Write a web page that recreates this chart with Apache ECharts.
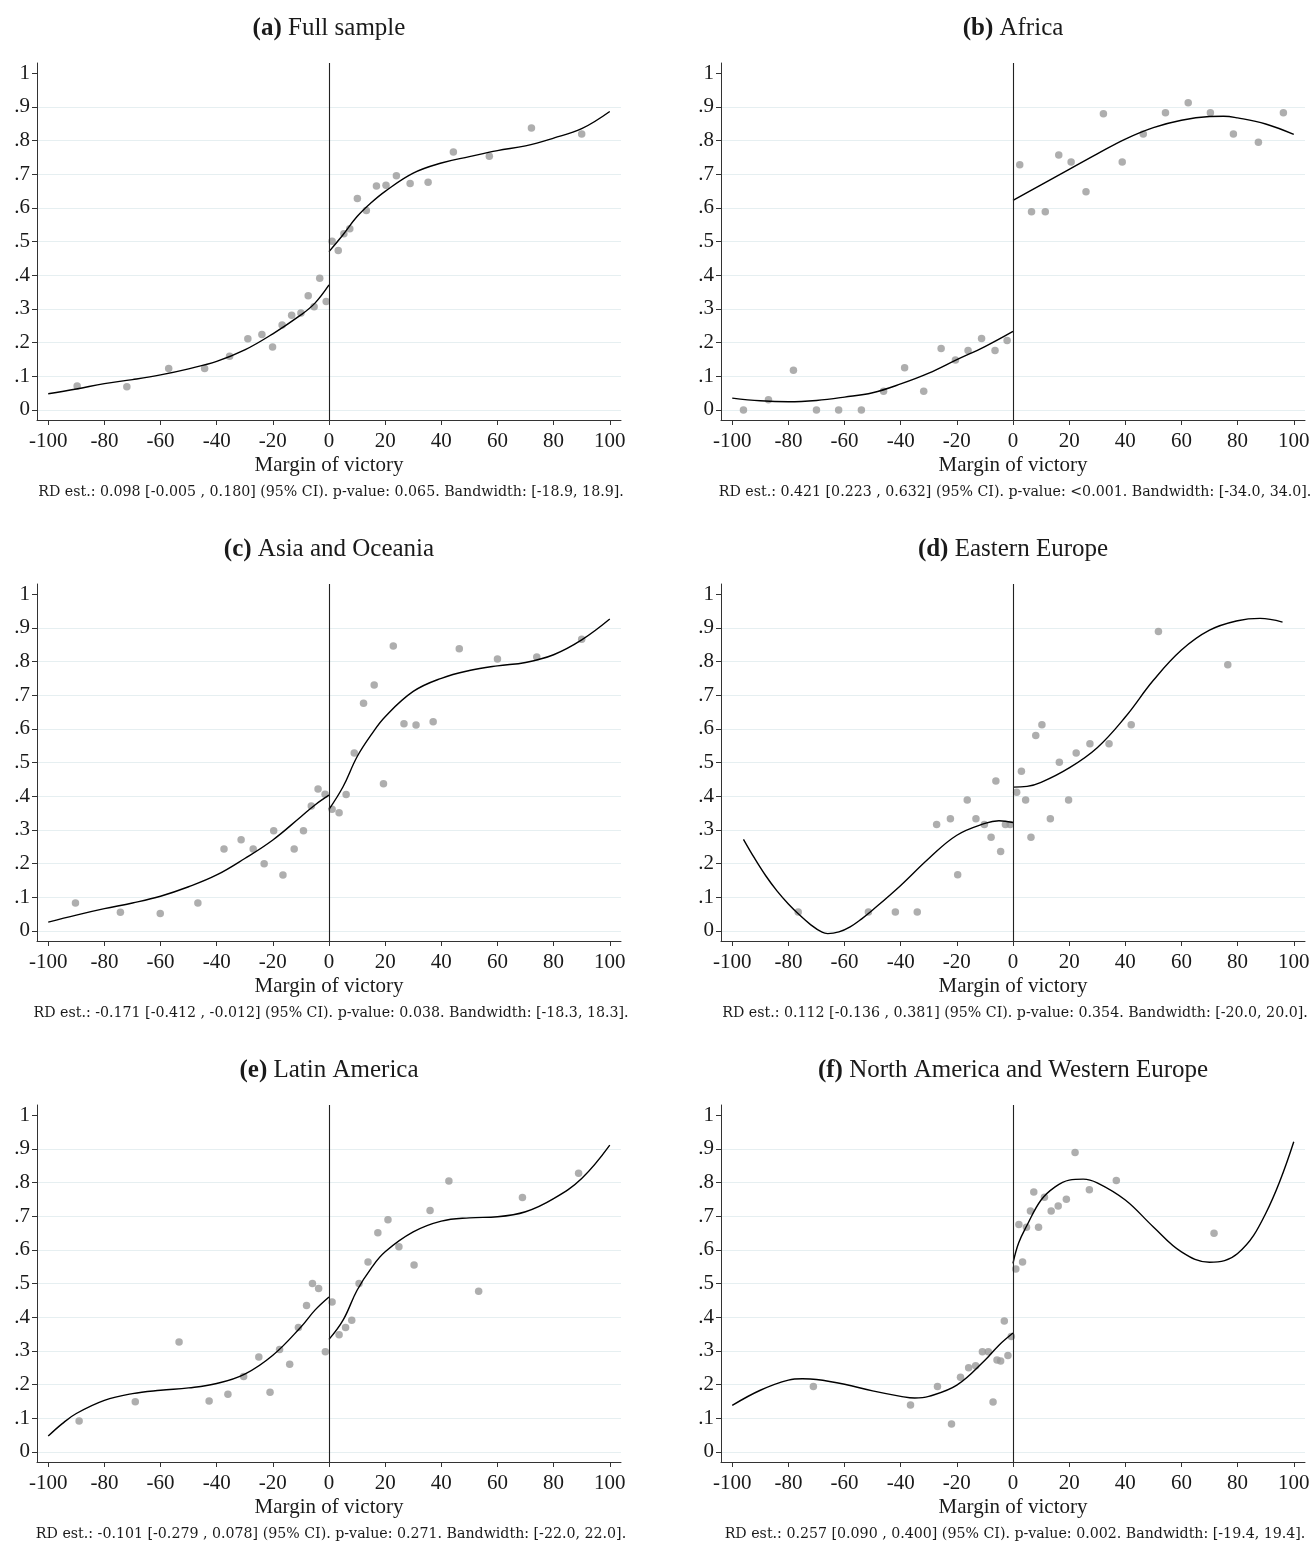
<!DOCTYPE html>
<html>
<head>
<meta charset="utf-8">
<script src="https://cdn.jsdelivr.net/npm/echarts@6/dist/echarts.min.js"></script>
<style>
  html, body { margin: 0; padding: 0; background: #ffffff; }
  #chart { width: 1314px; height: 1542px; }
</style>
</head>
<body>
<div id="chart"></div>
<script>
// Axis ticks shared by all panels
const xTicks = [-100, -80, -60, -40, -20, 0, 20, 40, 60, 80, 100];
const yTicks = [0, 0.1, 0.2, 0.3, 0.4, 0.5, 0.6, 0.7, 0.8, 0.9, 1];
const yTickLabels = ['0', '.1', '.2', '.3', '.4', '.5', '.6', '.7', '.8', '.9', '1'];
const yGridValues = [0, 0.1, 0.2, 0.3, 0.4, 0.5, 0.6, 0.7, 0.8, 0.9];

// (a) Full sample
const aBinX = [-89.7, -72, -57.1, -44.3, -35.4, -28.9, -23.9, -20.1, -16.7, -13.3, -10, -7.4, -5.3, -3.3, -1, 1.1, 3.3, 5.3, 7.4, 10.1, 13.3, 16.9, 20.3, 24, 28.9, 35.3, 44.3, 57.1, 72.1, 90];
const aBinY = [0.071, 0.069, 0.123, 0.123, 0.159, 0.211, 0.224, 0.187, 0.252, 0.281, 0.288, 0.339, 0.306, 0.391, 0.322, 0.501, 0.473, 0.523, 0.538, 0.628, 0.592, 0.665, 0.667, 0.695, 0.672, 0.676, 0.766, 0.753, 0.837, 0.819];
const aFitLX = [-100, -90, -80, -70, -60, -50, -40, -30, -20, -10, -5, 0];
const aFitLY = [0.048, 0.062, 0.078, 0.090, 0.104, 0.122, 0.144, 0.178, 0.226, 0.282, 0.317, 0.371];
const aFitRX = [0, 5, 10, 15, 20, 30, 40, 50, 60, 70, 80, 90, 100];
const aFitRY = [0.470, 0.520, 0.574, 0.615, 0.649, 0.703, 0.733, 0.752, 0.770, 0.784, 0.807, 0.835, 0.886];

// (b) Africa
const bBinX = [-96, -87.1, -78.2, -70, -62.1, -54, -46.1, -38.6, -31.8, -25.6, -20.5, -16, -11.2, -6.4, -2.1, 2.4, 6.6, 11.5, 16.3, 20.7, 26, 32.2, 38.9, 46.4, 54.3, 62.4, 70.3, 78.5, 87.4, 96.3];
const bBinY = [0, 0.030, 0.118, 0, 0, 0, 0.055, 0.125, 0.055, 0.182, 0.148, 0.176, 0.212, 0.176, 0.206, 0.728, 0.588, 0.588, 0.757, 0.736, 0.648, 0.879, 0.736, 0.819, 0.882, 0.912, 0.882, 0.819, 0.795, 0.882];
const bFitLX = [-100, -90, -80, -70, -60, -50, -40, -30, -20, -10, 0];
const bFitLY = [0.035, 0.027, 0.024, 0.028, 0.038, 0.051, 0.077, 0.109, 0.149, 0.188, 0.233];
const bFitRX = [0, 10, 20, 30, 40, 50, 60, 70, 75, 80, 90, 100];
const bFitRY = [0.622, 0.668, 0.714, 0.760, 0.804, 0.838, 0.860, 0.871, 0.872, 0.867, 0.849, 0.818];

// (c) Asia and Oceania
const cBinX = [-90.3, -74.3, -60.1, -46.7, -37.4, -31.3, -27, -23.1, -19.7, -16.4, -12.4, -9.1, -6.3, -3.9, -1.4, 1.1, 3.6, 6.1, 9, 12.3, 16.1, 19.4, 22.9, 26.7, 31, 37.1, 46.4, 60, 74, 90];
const cBinY = [0.083, 0.055, 0.052, 0.083, 0.243, 0.271, 0.243, 0.199, 0.297, 0.166, 0.243, 0.297, 0.371, 0.421, 0.406, 0.361, 0.351, 0.405, 0.528, 0.676, 0.730, 0.437, 0.846, 0.615, 0.611, 0.621, 0.838, 0.807, 0.813, 0.866];
const cFitLX = [-100, -90, -80, -70, -60, -50, -40, -30, -20, -10, -5, 0];
const cFitLY = [0.026, 0.047, 0.066, 0.083, 0.103, 0.131, 0.166, 0.215, 0.270, 0.339, 0.374, 0.403];
const cFitRX = [0, 5, 10, 15, 20, 30, 40, 50, 60, 70, 80, 90, 100];
const cFitRY = [0.361, 0.428, 0.517, 0.582, 0.636, 0.711, 0.750, 0.773, 0.787, 0.797, 0.820, 0.864, 0.926];

// (d) Eastern Europe
const dBinX = [-76.5, -51.5, -41.9, -34.1, -27.2, -22.3, -19.7, -16.3, -13.2, -10.2, -7.8, -6.1, -4.4, -2.7, -1, 1.3, 3, 4.5, 6.4, 8.1, 10.3, 13.3, 16.5, 19.8, 22.5, 27.4, 34.2, 42.1, 51.8, 76.5];
const dBinY = [0.056, 0.056, 0.056, 0.056, 0.316, 0.333, 0.167, 0.389, 0.333, 0.316, 0.278, 0.445, 0.236, 0.316, 0.316, 0.412, 0.474, 0.389, 0.278, 0.580, 0.612, 0.333, 0.501, 0.389, 0.528, 0.556, 0.556, 0.612, 0.889, 0.790];
const dFitLX = [-96, -92, -88, -84, -80, -76, -72, -68, -66, -62, -58, -54, -50, -40, -30, -20, -10, -5, 0];
const dFitLY = [0.272, 0.215, 0.163, 0.118, 0.080, 0.047, 0.018, -0.004, -0.008, -0.003, 0.012, 0.035, 0.062, 0.135, 0.215, 0.284, 0.319, 0.327, 0.322];
const dFitRX = [0, 5, 10, 20, 30, 40, 50, 60, 70, 80, 88, 96];
const dFitRY = [0.427, 0.429, 0.441, 0.484, 0.544, 0.635, 0.744, 0.834, 0.893, 0.921, 0.928, 0.917];

// (e) Latin America
const eBinX = [-89, -69, -53.4, -42.7, -36, -30.4, -25, -21, -17.6, -14, -10.9, -8, -5.9, -3.7, -1.3, 1.1, 3.6, 5.9, 8.1, 10.7, 13.9, 17.4, 21, 24.9, 30.3, 36, 42.7, 53.3, 68.9, 88.9];
const eBinY = [0.092, 0.149, 0.326, 0.151, 0.171, 0.224, 0.282, 0.177, 0.304, 0.260, 0.369, 0.435, 0.500, 0.485, 0.297, 0.445, 0.348, 0.369, 0.391, 0.500, 0.564, 0.651, 0.689, 0.609, 0.555, 0.717, 0.804, 0.477, 0.755, 0.827];
const eFitLX = [-100, -95, -90, -80, -70, -60, -50, -40, -30, -20, -10, -5, 0];
const eFitLY = [0.047, 0.084, 0.114, 0.153, 0.173, 0.183, 0.190, 0.203, 0.231, 0.287, 0.371, 0.421, 0.460];
const eFitRX = [0, 5, 10, 15, 20, 30, 40, 50, 60, 70, 80, 90, 100];
const eFitRY = [0.334, 0.391, 0.480, 0.545, 0.594, 0.653, 0.685, 0.695, 0.698, 0.713, 0.752, 0.812, 0.911];

// (f) North America and Western Europe
const fBinX = [-71.1, -36.5, -26.9, -21.9, -18.7, -15.8, -13.3, -10.9, -8.8, -7.1, -5.7, -4.4, -3.1, -1.8, -0.6, 1, 2.1, 3.4, 4.8, 6.2, 7.4, 9.1, 11.2, 13.6, 16.1, 19, 22.1, 27.2, 36.8, 71.6];
const fBinY = [0.194, 0.139, 0.194, 0.083, 0.222, 0.250, 0.256, 0.297, 0.297, 0.148, 0.273, 0.270, 0.389, 0.286, 0.343, 0.543, 0.675, 0.564, 0.667, 0.715, 0.772, 0.667, 0.756, 0.715, 0.730, 0.750, 0.889, 0.778, 0.806, 0.649];
const fFitLX = [-100, -90, -80, -75, -70, -60, -50, -40, -35, -30, -20, -10, -5, 0];
const fFitLY = [0.138, 0.183, 0.213, 0.217, 0.215, 0.201, 0.181, 0.165, 0.160, 0.165, 0.198, 0.272, 0.317, 0.353];
const fFitRX = [0, 2, 5, 10, 15, 20, 25, 30, 40, 50, 60, 70, 80, 90, 100];
const fFitRY = [0.560, 0.620, 0.673, 0.748, 0.787, 0.807, 0.810, 0.799, 0.748, 0.668, 0.594, 0.563, 0.589, 0.708, 0.921];

const panelTitles = [
  ['(a)', 'Full sample'],
  ['(b)', 'Africa'],
  ['(c)', 'Asia and Oceania'],
  ['(d)', 'Eastern Europe'],
  ['(e)', 'Latin America'],
  ['(f)', 'North America and Western Europe']
];
const footnotes = [
  'RD est.: 0.098 [-0.005 , 0.180] (95% CI). p-value: 0.065. Bandwidth: [-18.9, 18.9].',
  'RD est.: 0.421 [0.223 , 0.632] (95% CI). p-value: <0.001. Bandwidth: [-34.0, 34.0].',
  'RD est.: -0.171 [-0.412 , -0.012] (95% CI). p-value: 0.038. Bandwidth: [-18.3, 18.3].',
  'RD est.: 0.112 [-0.136 , 0.381] (95% CI). p-value: 0.354. Bandwidth: [-20.0, 20.0].',
  'RD est.: -0.101 [-0.279 , 0.078] (95% CI). p-value: 0.271. Bandwidth: [-22.0, 22.0].',
  'RD est.: 0.257 [0.090 , 0.400] (95% CI). p-value: 0.002. Bandwidth: [-19.4, 19.4].'
];

const panels = [
  { binX: aBinX, binY: aBinY, lx: aFitLX, ly: aFitLY, rx: aFitRX, ry: aFitRY },
  { binX: bBinX, binY: bBinY, lx: bFitLX, ly: bFitLY, rx: bFitRX, ry: bFitRY },
  { binX: cBinX, binY: cBinY, lx: cFitLX, ly: cFitLY, rx: cFitRX, ry: cFitRY },
  { binX: dBinX, binY: dBinY, lx: dFitLX, ly: dFitLY, rx: dFitRX, ry: dFitRY },
  { binX: eBinX, binY: eBinY, lx: eFitLX, ly: eFitLY, rx: eFitRX, ry: eFitRY },
  { binX: fBinX, binY: fBinY, lx: fFitLX, ly: fFitLY, rx: fFitRX, ry: fFitRY }
];

// Layout
const SERIF = '"Liberation Serif", "DejaVu Serif", serif';
const NOTE_FONT = '"DejaVu Serif", "Liberation Serif", serif';
const colLeft = [37, 721];
const rowTop = [63, 584, 1105];
const plotW = 584, plotH = 357;
const X_MIN = -104, X_MAX = 104, Y_MIN = -0.03, Y_MAX = 1.03;
const ink = '#1a1a1a';

const zip = (xs, ys) => xs.map((x, i) => [x, ys[i]]);

const option = {
  backgroundColor: '#ffffff',
  animation: false,
  title: [],
  grid: [],
  xAxis: [],
  yAxis: [],
  series: []
};

panels.forEach((p, i) => {
  const col = i % 2, row = Math.floor(i / 2);
  const left = colLeft[col], top = rowTop[row];
  const cx = left + plotW * (0 - X_MIN) / (X_MAX - X_MIN);

  option.grid.push({ left: left, top: top, width: plotW, height: plotH, containLabel: false });

  option.title.push({
    text: '{b|' + panelTitles[i][0] + '} ' + panelTitles[i][1],
    left: cx, top: top - 47, textAlign: 'center', padding: 0,
    textStyle: {
      fontFamily: SERIF, fontSize: 25, fontWeight: 'normal', color: ink,
      rich: { b: { fontFamily: SERIF, fontSize: 25, fontWeight: 'bold', color: ink } }
    }
  });
  option.title.push({
    text: footnotes[i],
    left: cx + 2, top: top + 422, textAlign: 'center', padding: 0,
    textStyle: { fontFamily: NOTE_FONT, fontSize: 14.2, fontWeight: 'normal', color: ink }
  });

  option.xAxis.push({
    type: 'value', gridIndex: i, min: X_MIN, max: X_MAX,
    name: 'Margin of victory', nameLocation: 'middle', nameGap: 35,
    nameTextStyle: { fontFamily: SERIF, fontSize: 21, color: ink },
    axisLine: { show: true, onZero: false, lineStyle: { color: '#333', width: 1 } },
    axisTick: { show: true, length: 5, customValues: xTicks, lineStyle: { color: '#333' } },
    axisLabel: { customValues: xTicks, fontFamily: SERIF, fontSize: 21, color: ink, margin: 11 },
    splitLine: { show: false }
  });

  // main y axis: line, ticks and labels
  option.yAxis.push({
    type: 'value', gridIndex: i, min: Y_MIN, max: Y_MAX, position: 'left',
    axisLine: { show: true, onZero: false, lineStyle: { color: '#333', width: 1 } },
    axisTick: { show: true, length: 5, customValues: yTicks, lineStyle: { color: '#333' } },
    axisLabel: {
      customValues: yTicks, fontFamily: SERIF, fontSize: 21, color: ink, margin: 7,
      formatter: v => yTickLabels[yTicks.findIndex(t => Math.abs(t - v) < 1e-9)]
    },
    splitLine: { show: false }
  });
  // companion y axis carrying only the horizontal grid lines
  option.yAxis.push({
    type: 'value', gridIndex: i, min: Y_MIN, max: Y_MAX, position: 'left',
    axisLine: { show: false }, axisLabel: { show: false },
    axisTick: { show: false, customValues: yGridValues },
    splitLine: { show: true, lineStyle: { color: '#e6eff1', width: 1.2 } }
  });

  const yIdx = i * 2;
  option.series.push({
    type: 'scatter', xAxisIndex: i, yAxisIndex: yIdx,
    data: zip(p.binX, p.binY),
    symbol: 'circle', symbolSize: 7.5,
    itemStyle: { color: '#9a9a9a' },
    z: 2, silent: true,
    markLine: {
      silent: true, symbol: ['none', 'none'], label: { show: false },
      lineStyle: { color: '#222', width: 1.1, type: 'solid' },
      emphasis: { disabled: true },
      data: [{ xAxis: 0 }]
    }
  });
  [[p.lx, p.ly], [p.rx, p.ry]].forEach(([xs, ys]) => {
    option.series.push({
      type: 'line', xAxisIndex: i, yAxisIndex: yIdx,
      data: zip(xs, ys),
      showSymbol: false, smooth: 0.4, silent: true,
      lineStyle: { color: '#000', width: 1.4 },
      z: 3
    });
  });
});

const chart = echarts.init(document.getElementById('chart'), null, { renderer: 'canvas' });
chart.setOption(option);
</script>
</body>
</html>
